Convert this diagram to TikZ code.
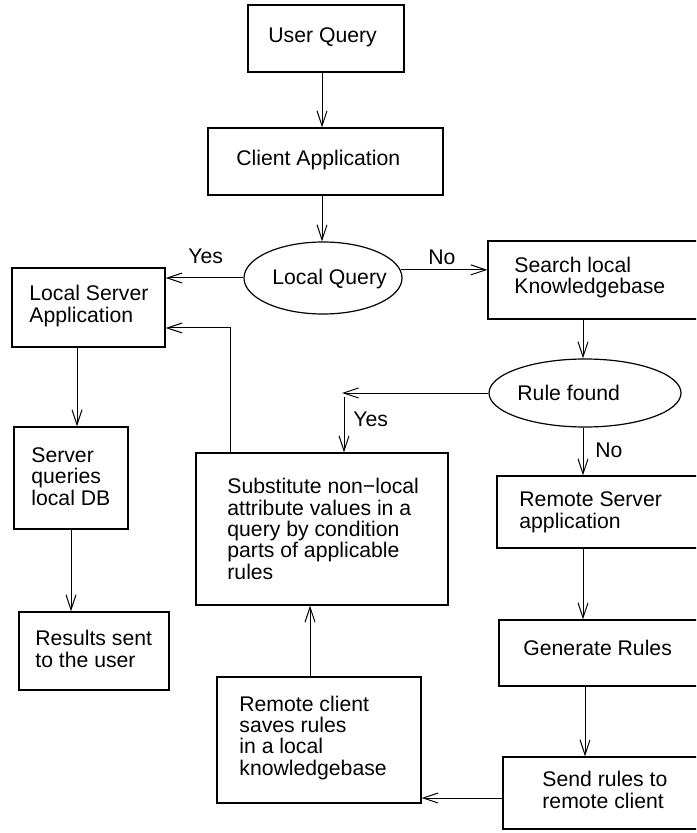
\documentclass[tikz,border=0pt]{standalone}
\usepackage{fontspec}
\setmainfont{Liberation Sans}
\usetikzlibrary{arrows.meta,shapes.geometric,fit,calc}
\begin{document}
\begin{tikzpicture}[x=0.5pt,y=-0.5pt,
  box/.style={draw, inner sep=0pt, line width=0.6pt},
  oval/.style={draw, ellipse, inner sep=0pt, line width=0.6pt},
  txt/.style={inner sep=0pt, anchor=base west, align=left, font=\fontsize{10.6pt}{10.65pt}\selectfont},
  arr/.style={-{Straight Barb[length=7.5pt,width=5pt]}, line width=0.5pt},
  ]
\useasboundingbox (0,0) rectangle (696,833);
\clip (0,0) rectangle (696,833);
% boxes
\node[box, fit={(248,5) (404,72)}] (uq) {};
\node[box, fit={(208,128) (443,195)}] (ca) {};
\node[box, fit={(12,268) (165,347)}] (ls) {};
\node[box, fit={(488,241) (710,319)}] (sk) {};
\node[box, fit={(14,427) (128,529)}] (sq) {};
\node[box, fit={(196,453) (448,605)}] (sub) {};
\node[box, fit={(497,476) (710,548)}] (rs) {};
\node[box, fit={(19,612) (169,690)}] (res) {};
\node[box, fit={(499,620) (710,686)}] (gr) {};
\node[box, fit={(217,677) (421,803)}] (rc) {};
\node[box, fit={(503,757) (710,829)}] (sr) {};
% decisions
\node[oval, minimum width=79pt, minimum height=36pt] (lq) at (323,278) {};
\node[oval, minimum width=96pt, minimum height=34pt] (rf) at (585,393) {};
% texts (anchor = baseline of the last line)
\node[txt] (t1) at (268,43) {User Query};
\node[txt] (t2) at (236,166) {Client Application};
\node[txt] (t3) at (272,285) {Local Query};
\node[txt] (t4) at (188,264) {Yes};
\node[txt] (t5) at (428,265) {No};
\node[txt] (t6) at (29,322) {Local Server\\Application};
\node[txt] (t7) at (514,294) {Search local\\Knowledgebase};
\node[txt] (t8) at (517,400) {Rule found};
\node[txt] (t9) at (353,426) {Yes};
\node[txt] (t10) at (595,457) {No};
\node[txt] (t11) at (31,505) {Server\\queries\\local DB};
\node[txt] (t12) at (227,579) {Substitute non−local\\attribute values in a\\query by condition\\parts of applicable\\rules};
\node[txt] (t13) at (519,528) {Remote Server\\application};
\node[txt] (t14) at (35,667) {Results sent\\to the user};
\node[txt] (t15) at (523,655) {Generate Rules};
\node[txt] (t16) at (239,775) {Remote client\\saves rules\\in a local\\knowledgebase};
\node[txt] (t17) at (542,808) {Send rules to\\remote client};
% helper coordinates
\coordinate (cA) at (322,0);
\coordinate (cB) at (77,0);
\coordinate (cC) at (230,328);
\coordinate (cD) at (583,0);
\coordinate (cE) at (585,0);
\coordinate (cF) at (0,798);
\coordinate (cG) at (310,0);
\coordinate (yt) at (342,0);
\coordinate (yv) at (344,397);
% connectors
\draw[arr] (uq.south -| cA) -- (ca.north -| cA);
\draw[arr] (ca.south -| cA) -- (lq.north -| cA);
\draw[arr] (lq.west) -- (lq.west -| ls.east);
\draw[arr] (lq.6) -- (lq.6 -| sk.west);
\draw[arr] (ls.south -| cB) -- (sq.north -| cB);
\draw[arr] (sq.south) -- (sq.south |- res.north);
\draw[arr] (sub.north -| cC) -- (cC) -- (cC -| ls.east);
\draw[arr] (sk.south -| cD) -- (rf.north -| cD);
\draw[arr] (rf.west) -- (rf.west -| yt);
\draw[arr] (yv) -- (yv |- sub.north);
\draw[arr] (rf.south -| cD) -- (rs.north -| cD);
\draw[arr] (rs.south -| cD) -- (gr.north -| cD);
\draw[arr] (gr.south -| cE) -- (sr.north -| cE);
\draw[arr] (sr.west |- cF) -- (rc.east |- cF);
\draw[arr] (rc.north -| cG) -- (sub.south -| cG);
\end{tikzpicture}
\end{document}
